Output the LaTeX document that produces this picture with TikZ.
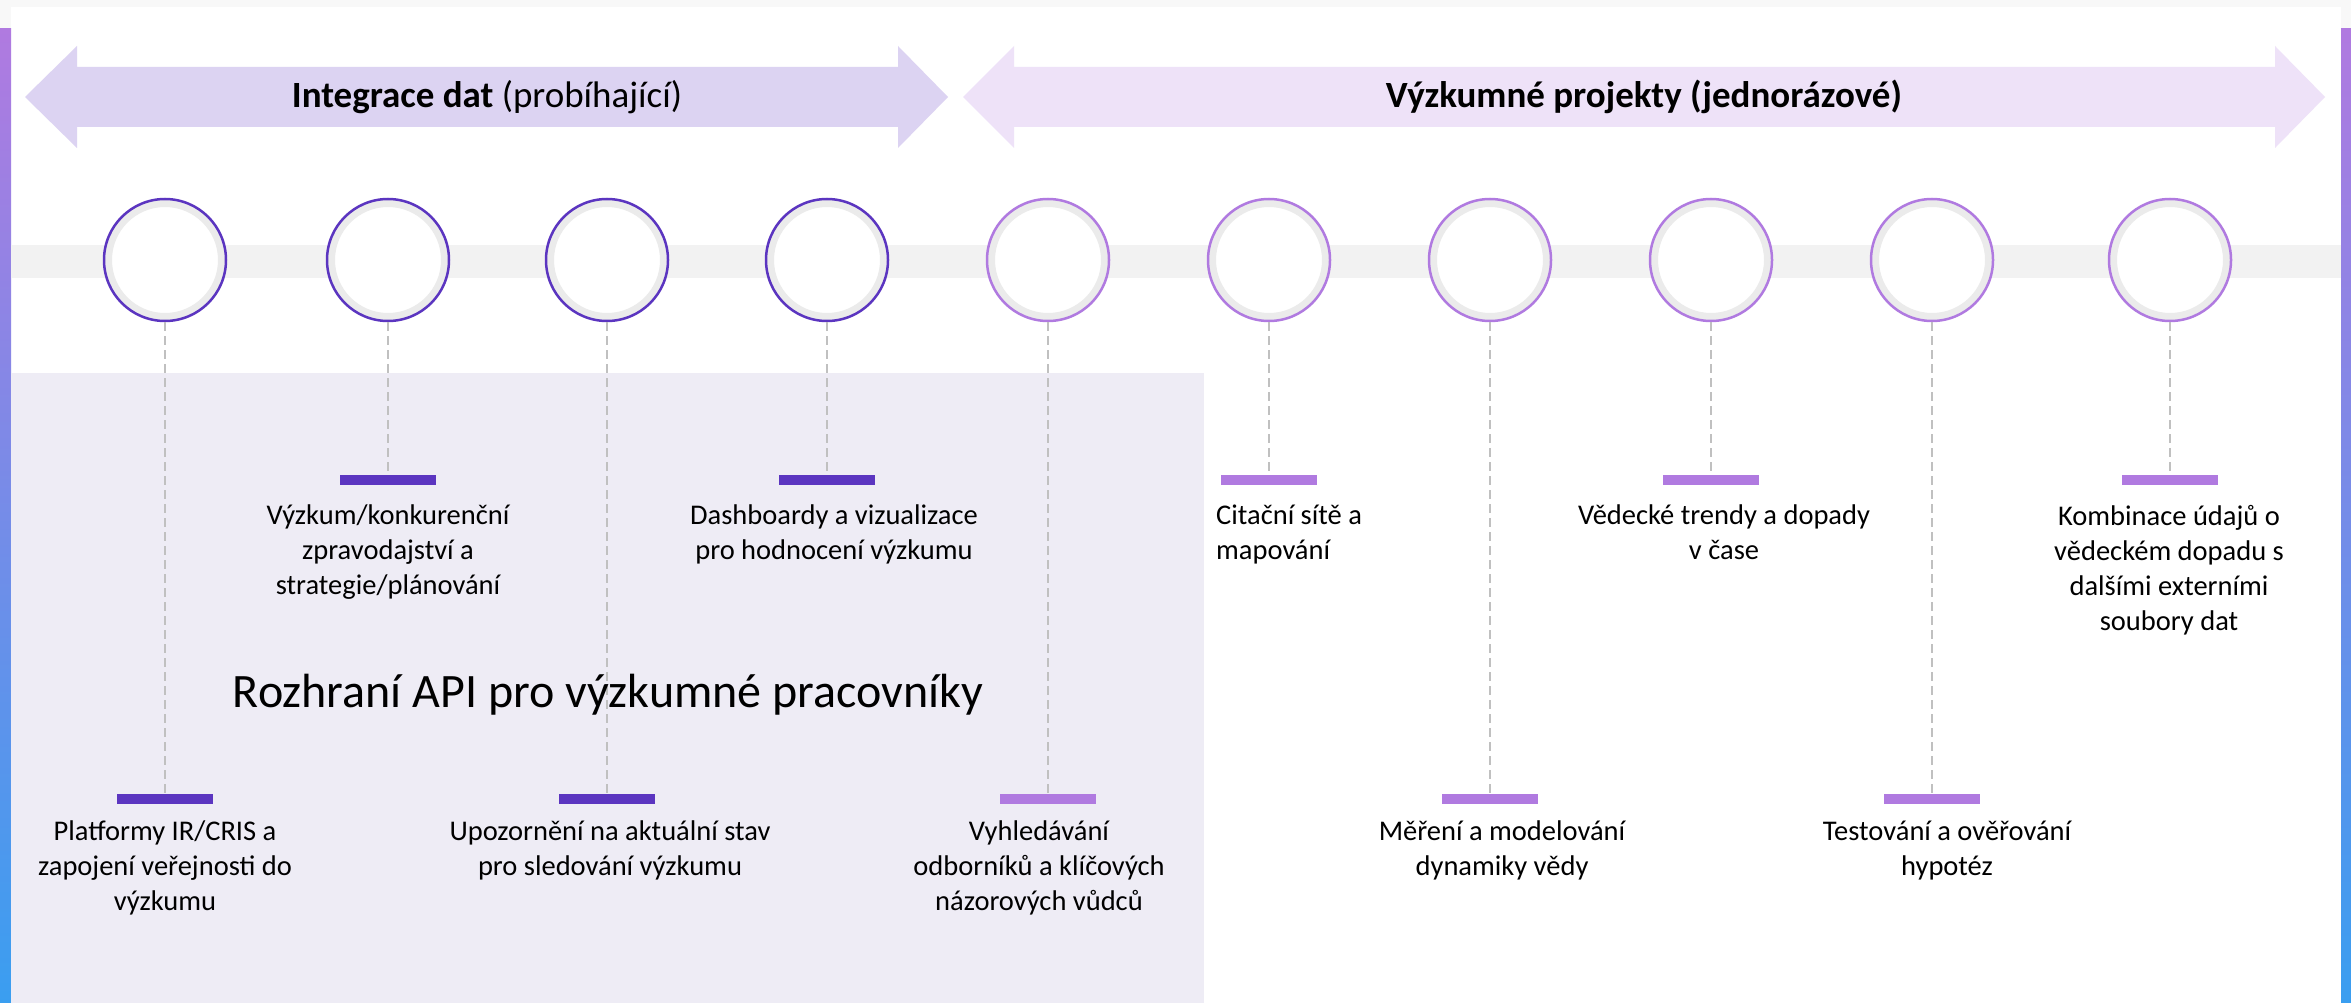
\documentclass[tikz,border=0pt]{standalone}
\usepackage{fontspec}
\setmainfont{Carlito}
\definecolor{dpurple}{HTML}{5B35C0}
\definecolor{lpurple}{HTML}{B07AE0}
\definecolor{arrowA}{HTML}{DCD3F2}
\definecolor{arrowB}{HTML}{EEE2F8}
\definecolor{panel}{HTML}{EEECF5}
\definecolor{band}{HTML}{F2F2F2}
\definecolor{dashc}{HTML}{C0C0C0}
\definecolor{ringc}{HTML}{EBEBEB}
\definecolor{sidetop}{HTML}{B07AE0}
\definecolor{sidebot}{HTML}{3A9EF0}
\definecolor{topstrip}{HTML}{F8F8F8}
\tikzset{
  circ/.style={circle, minimum size=122pt, inner sep=0pt, fill=white, draw=#1, line width=2.5pt,
    path picture={\draw[ringc, line width=7pt] (path picture bounding box.center) circle[radius=56.5pt];}},
  barbox/.style={rectangle, minimum width=96pt, minimum height=10pt, inner sep=0pt, fill=#1},
  dashline/.style={draw=dashc, line width=2pt, dash pattern=on 9pt off 5pt},
  lbl/.style={inner sep=0pt, align=center, font=\fontsize{28.5}{35}\selectfont, execute at begin node=\strut, anchor=north},
  hdr/.style={inner sep=0pt, font=\fontsize{37}{44}\selectfont}
}
\begin{document}
\begin{tikzpicture}[x=1pt,y=-1pt]
\useasboundingbox (0,0) rectangle (2351,1003);
\fill[topstrip] (0,0) rectangle (2351,1003);
\fill[white] (11,7) rectangle (2341,1003);
\shade[top color=sidetop, bottom color=sidebot] (0,29) rectangle (11,1003);
\shade[top color=sidetop, bottom color=sidebot] (2341,29) rectangle (2351,1003);
% panel
\fill[panel] (11,373) rectangle (1204,1003);
% band
\fill[band] (11,245) rectangle (2341,278);
% arrows
\fill[arrowA] (25,97) -- (77,46) -- (77,67) -- (898,67) -- (898,46) -- (948,97) -- (898,148) -- (898,127) -- (77,127) -- (77,148) -- cycle;
\fill[arrowB] (963,97) -- (1014,46) -- (1014,67) -- (2275,67) -- (2275,46) -- (2325,97) -- (2275,148) -- (2275,127) -- (1014,127) -- (1014,148) -- cycle;
\node[hdr] (h1) at (487,97) {\textbf{Integrace dat} (probíhající)};
\node[hdr] (h2) at (1644,97) {\textbf{Výzkumné projekty (jednorázové)}};
% circles
\node[circ=dpurple] (c1) at (165,260) {};
\node[circ=dpurple] (c2) at (388,260) {};
\node[circ=dpurple] (c3) at (607,260) {};
\node[circ=dpurple] (c4) at (827,260) {};
\node[circ=lpurple] (c5) at (1048,260) {};
\node[circ=lpurple] (c6) at (1269,260) {};
\node[circ=lpurple] (c7) at (1490,260) {};
\node[circ=lpurple] (c8) at (1711,260) {};
\node[circ=lpurple] (c9) at (1932,260) {};
\node[circ=lpurple] (c10) at (2170,260) {};
% bars
\node[barbox=dpurple] (b1) at (165,799) {};
\node[barbox=dpurple] (b2) at (388,480) {};
\node[barbox=dpurple] (b3) at (607,799) {};
\node[barbox=dpurple] (b4) at (827,480) {};
\node[barbox=lpurple] (b5) at (1048,799) {};
\node[barbox=lpurple] (b6) at (1269,480) {};
\node[barbox=lpurple] (b7) at (1490,799) {};
\node[barbox=lpurple] (b8) at (1711,480) {};
\node[barbox=lpurple] (b9) at (1932,799) {};
\node[barbox=lpurple] (b10) at (2170,480) {};
\foreach \i in {1,...,10} { \draw[dashline] (c\i.south) -- (b\i.north); }
% labels
\node[lbl] (t1) at (165,821) {Platformy IR/CRIS a\\zapojení veřejnosti do\\výzkumu};
\node[lbl] (t2) at (388,505) {Výzkum/konkurenční\\zpravodajství a\\strategie/plánování};
\node[lbl] (t3) at (610,821) {Upozornění na aktuální stav\\pro sledování výzkumu};
\node[lbl] (t4) at (834,505) {Dashboardy a vizualizace\\pro hodnocení výzkumu};
\node[lbl] (t5) at (1039,821) {Vyhledávání\\odborníků a klíčových\\názorových vůdců};
\node[lbl, align=left, anchor=north west] (t6) at (1216,505) {Citační sítě a\\mapování};
\node[lbl] (t7) at (1502,821) {Měření a modelování\\dynamiky vědy};
\node[lbl] (t8) at (1724,505) {Vědecké trendy a dopady\\v čase};
\node[lbl] (t9) at (1947,821) {Testování a ověřování\\hypotéz};
\node[lbl] (t10) at (2169,505) {Kombinace údajů o\\vědeckém dopadu s\\dalšími externími\\soubory dat};
\node[inner sep=0pt, font=\fontsize{48}{58}\selectfont] (api) at (608,695) {Rozhraní API pro výzkumné pracovníky};
\end{tikzpicture}
\end{document}
